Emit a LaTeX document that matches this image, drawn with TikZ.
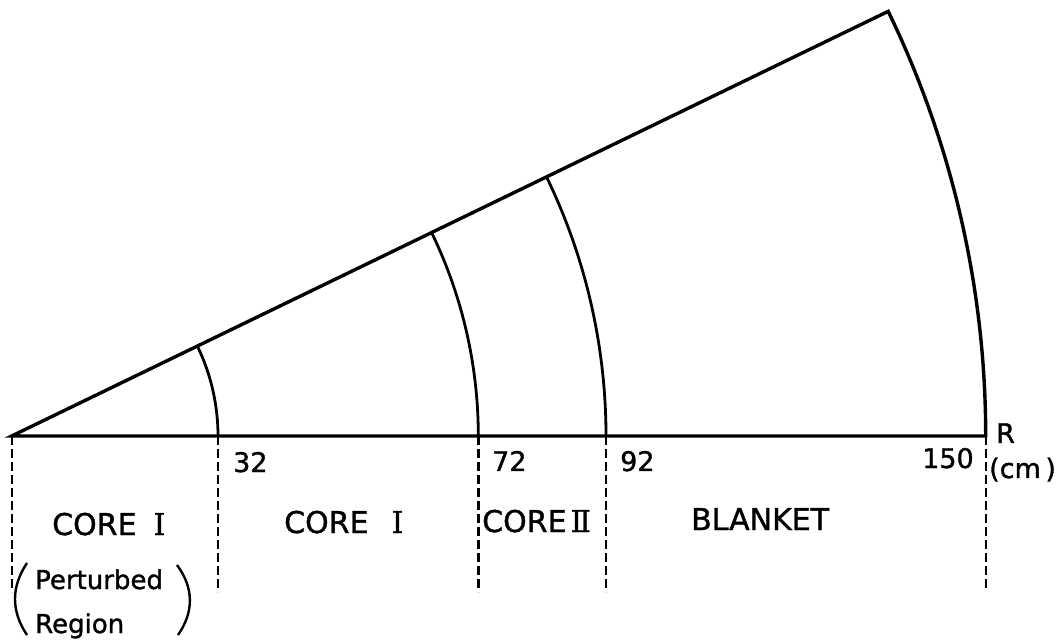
\documentclass[tikz,border=0pt]{standalone}
\usepackage{fontspec}
\setmainfont[FakeBold=1.2]{DejaVu Sans}
\newfontfamily\romnum[FakeBold=1]{DejaVu Serif}
\begin{document}
\begin{tikzpicture}[x=1pt,y=1pt,
  word/.style={anchor=base west, inner sep=0pt, font=\fontsize{30}{32}\selectfont},
  num/.style={anchor=base west, inner sep=0pt, font=\fontsize{27}{29}\selectfont},
  small/.style={anchor=base west, inner sep=0pt, font=\fontsize{26}{28}\selectfont},
  outline/.style={line width=3.4pt, line join=miter},
  arcline/.style={line width=2.8pt},
  bound/.style={line width=2.4pt, dash pattern=on 9pt off 4pt},
  paren/.style={line width=2.4pt}]
\useasboundingbox (0,0) rectangle (1060,643);
\def\ang{25.85}
\coordinate (O) at (11.7,207);
\path (O) ++(\ang:974) coordinate (A);
% outer sector
\draw[outline] (O) -- (A) arc[start angle=\ang, end angle=0, radius=974] coordinate (B150) -- cycle;
% inner boundaries
\coordinate (B32) at (218,207);
\coordinate (B72) at (478.3,207);
\coordinate (B92) at (606,207);
\draw[arcline] (B32) arc[start angle=0, end angle=\ang, radius=206.3];
\draw[arcline] (B72) arc[start angle=0, end angle=\ang, radius=466.6];
\draw[arcline] (B92) arc[start angle=0, end angle=\ang, radius=594.3];
% dashed region boundaries
\coordinate (D0) at (11.7,51);
\coordinate (D32) at (218,51);
\coordinate (D72) at (478.3,51);
\coordinate (D92) at (606,51);
\coordinate (D150) at (985.7,55);
\draw[bound] (O) -- (D0);
\draw[bound] (B32) -- (D32);
\draw[bound] (B72) -- (D72);
\draw[bound] (B92) -- (D92);
\draw[bound] (B150) -- (D150);
% radii labels
\node[num] (n32) at (233,171) {32};
\node[num] (n72) at (492,172) {72};
\node[num] (n92) at (620,172) {92};
\node[num] (n150) at (922,175) {150};
\node[num] (nR) at (996,200) {R};
\node[num] (ncm) at (989,165) {(cm\,)};
% region labels
\node[word] (c1a) at (52,108) {CORE\hspace{17pt}{\romnum Ⅰ}};
\node[word] (c1b) at (284,110) {CORE\hspace{23pt}{\romnum Ⅰ}};
\node[word] (c2) at (482,111) {CORE\hspace{4pt}{\romnum Ⅱ}};
\node[word] (bl) at (691,113) {BLANKET};
\node[small] (pt) at (35,54) {Perturbed};
\node[small] (rg) at (35,10) {Region};
% parentheses
\draw[paren] (27,80) .. controls (11,56) and (11,32) .. (27,8);
\draw[paren] (177,78) .. controls (194,55) and (194,31) .. (178,8);
\end{tikzpicture}
\end{document}
